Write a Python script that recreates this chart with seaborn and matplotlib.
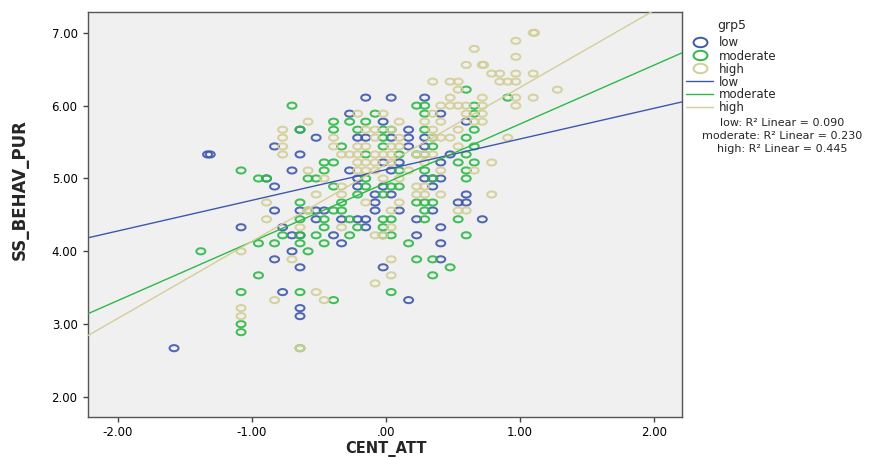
import matplotlib
matplotlib.use("Agg")
import matplotlib.pyplot as plt
import pandas as pd
import seaborn as sns
from matplotlib.path import Path
from matplotlib.lines import Line2D

# ---- data (CENT_ATT vs SS_BEHAV_PUR, by grp5) ----
low_x = [
    -0.15, 0.04, 0.29,
    -0.27, 0.41,
    -0.02, 0.60,
    -0.64, 0.17,
    -0.52, -0.21, -0.15, 0.04, 0.17, 0.29,
    -0.83, 0.17, 0.29,
    -1.33, -1.31, -0.64, 0.48,
    -0.02, 0.10, 0.41,
    -0.70, -0.27, 0.04,
    -0.89, -0.21, 0.29, 0.35, 0.41,
    -0.83, -0.21, -0.02, 0.35,
    -0.08, 0.04, 0.60,
    -0.08, 0.54, 0.60,
    -0.83, -0.64, -0.52, -0.46, -0.08, 0.10, 0.35,
    -0.52, -0.33, -0.21, -0.15, 0.23, 0.72,
    -1.08, -0.77, -0.15, 0.41,
    -0.70, -0.64, -0.39, 0.23,
    -0.33, 0.41,
    -0.70,
    -0.83, 0.41,
    -0.64, -0.02,
    -0.77,
    0.17,
    -0.64,
    -0.64,
    -1.58,
]
low_y = [
    6.11, 6.11, 6.11,
    5.89, 5.89,
    5.78, 5.78,
    5.67, 5.67,
    5.56, 5.56, 5.56, 5.56, 5.56, 5.56,
    5.44, 5.44, 5.44,
    5.33, 5.33, 5.33, 5.33,
    5.22, 5.22, 5.22,
    5.11, 5.11, 5.11,
    5.00, 5.00, 5.00, 5.00, 5.00,
    4.89, 4.89, 4.89, 4.89,
    4.78, 4.78, 4.78,
    4.67, 4.67, 4.67,
    4.56, 4.56, 4.56, 4.56, 4.56, 4.56, 4.56,
    4.44, 4.44, 4.44, 4.44, 4.44, 4.44,
    4.33, 4.33, 4.33, 4.33,
    4.22, 4.22, 4.22, 4.22,
    4.11, 4.11,
    4.00,
    3.89, 3.89,
    3.78, 3.78,
    3.44,
    3.33,
    3.22,
    3.11,
    2.67,
]

mod_x = [
    0.60,
    0.91,
    -0.70, 0.23, 0.29, 0.66,
    -0.08, 0.29, 0.66,
    -0.39, -0.27, -0.15,
    -0.64, -0.39, -0.21, -0.02, 0.04, 0.29, 0.66,
    -0.02, 0.35, 0.60,
    -0.33, -0.02, 0.35, 0.66,
    -0.15, 0.10, 0.23, 0.29, 0.60,
    -0.46, -0.39, 0.54, 0.66,
    -1.08, -0.46, 0.10, 0.29, 0.60,
    -0.95, -0.89, -0.58, -0.52, -0.15, 0.35, 0.60,
    -0.39, -0.15, 0.04, 0.10,
    -0.21, -0.02,
    -0.64, -0.33, 0.23, 0.29, 0.35,
    -0.58, -0.39, -0.33, 0.29,
    -0.64, -0.46, -0.27, -0.02, 0.04, 0.29, 0.54,
    -0.46, -0.21, -0.02,
    -0.77, -0.64, -0.52, -0.27, -0.02, 0.04, 0.60,
    -0.95, -0.83, -0.64, -0.46, 0.17,
    -1.38, -0.58,
    0.23, 0.35,
    0.48,
    -0.95, 0.35,
    -1.08, -0.64, 0.04,
    -0.39,
    -1.08,
    -1.08,
    -0.64,
]
mod_y = [
    6.22,
    6.11,
    6.00, 6.00, 6.00, 6.00,
    5.89, 5.89, 5.89,
    5.78, 5.78, 5.78,
    5.67, 5.67, 5.67, 5.67, 5.67, 5.67, 5.67,
    5.56, 5.56, 5.56,
    5.44, 5.44, 5.44, 5.44,
    5.33, 5.33, 5.33, 5.33, 5.33,
    5.22, 5.22, 5.22, 5.22,
    5.11, 5.11, 5.11, 5.11, 5.11,
    5.00, 5.00, 5.00, 5.00, 5.00, 5.00, 5.00,
    4.89, 4.89, 4.89, 4.89,
    4.78, 4.78,
    4.67, 4.67, 4.67, 4.67, 4.67,
    4.56, 4.56, 4.56, 4.56,
    4.44, 4.44, 4.44, 4.44, 4.44, 4.44, 4.44,
    4.33, 4.33, 4.33,
    4.22, 4.22, 4.22, 4.22, 4.22, 4.22, 4.22,
    4.11, 4.11, 4.11, 4.11, 4.11,
    4.00, 4.00,
    3.89, 3.89,
    3.78,
    3.67, 3.67,
    3.44, 3.44, 3.44,
    3.33,
    3.00,
    2.89,
    2.67,
]

high_x = [
    1.10, 1.11,
    0.97,
    0.66,
    0.97,
    0.60, 0.72, 0.73,
    0.79, 0.85, 0.97, 1.10,
    0.35, 0.48, 0.54, 0.85, 0.91, 0.97,
    0.54, 1.28,
    0.48, 0.72, 0.97, 1.10,
    0.41, 0.48, 0.54, 0.60, 0.72, 0.97,
    -0.21, -0.02, 0.35, 0.60, 0.72,
    -0.58, 0.10, 0.29, 0.41, 0.66, 0.72,
    -0.77, -0.15, -0.08, 0.04, 0.35, 0.54,
    -0.77, -0.39, -0.08, 0.10, 0.35, 0.41, 0.48, 0.91,
    -0.77, -0.39, -0.21, -0.15, 0.04, 0.10, 0.54,
    -0.77, -0.33, -0.27, -0.21, -0.08, -0.02, 0.04, 0.23, 0.29, 0.35,
    -0.21, -0.15, -0.08, 0.04, 0.29, 0.79,
    -0.58, -0.21, -0.15, -0.08, 0.17, 0.41, 0.66,
    -0.46, -0.02, 0.10,
    -0.33, 0.23, 0.29,
    -0.52, -0.33, 0.23, 0.29, 0.41, 0.79,
    -0.89, -0.15, 0.10,
    -0.58, 0.04, 0.54, 0.60,
    -0.89,
    -0.64, -0.33, 0.04,
    -0.08, -0.02,
    -1.08,
    -0.70, 0.04,
    0.04,
    -0.08,
    -0.52,
    -0.83, -0.46,
    -1.08,
    -1.08,
    -0.64,
]
high_y = [
    7.00, 7.00,
    6.89,
    6.78,
    6.67,
    6.56, 6.56, 6.56,
    6.44, 6.44, 6.44, 6.44,
    6.33, 6.33, 6.33, 6.33, 6.33, 6.33,
    6.22, 6.22,
    6.11, 6.11, 6.11, 6.11,
    6.00, 6.00, 6.00, 6.00, 6.00, 6.00,
    5.89, 5.89, 5.89, 5.89, 5.89,
    5.78, 5.78, 5.78, 5.78, 5.78, 5.78,
    5.67, 5.67, 5.67, 5.67, 5.67, 5.67,
    5.56, 5.56, 5.56, 5.56, 5.56, 5.56, 5.56, 5.56,
    5.44, 5.44, 5.44, 5.44, 5.44, 5.44, 5.44,
    5.33, 5.33, 5.33, 5.33, 5.33, 5.33, 5.33, 5.33, 5.33, 5.33,
    5.22, 5.22, 5.22, 5.22, 5.22, 5.22,
    5.11, 5.11, 5.11, 5.11, 5.11, 5.11, 5.11,
    5.00, 5.00, 5.00,
    4.89, 4.89, 4.89,
    4.78, 4.78, 4.78, 4.78, 4.78, 4.78,
    4.67, 4.67, 4.67,
    4.56, 4.56, 4.56, 4.56,
    4.44,
    4.33, 4.33, 4.33,
    4.22, 4.22,
    4.00,
    3.89, 3.89,
    3.67,
    3.56,
    3.44,
    3.33, 3.33,
    3.22,
    3.11,
    2.67,
]

groups = ["low", "moderate", "high"]
colors = ["#3E58AC", "#2EB848", "#D3CE97"]
# linear fit lines
fit_intercept = [5.121, 4.939, 5.192]
fit_slope = [0.421, 0.808, 1.057]
r2_linear = [0.090, 0.230, 0.445]

x_ticks = [-2, -1, 0, 1, 2]
x_ticklabels = ["-2.00", "-1.00", ".00", "1.00", "2.00"]
y_ticks = [2, 3, 4, 5, 6, 7]
y_ticklabels = ["2.00", "3.00", "4.00", "5.00", "6.00", "7.00"]

df = pd.concat([
    pd.DataFrame({"CENT_ATT": low_x, "SS_BEHAV_PUR": low_y, "grp5": "low"}),
    pd.DataFrame({"CENT_ATT": mod_x, "SS_BEHAV_PUR": mod_y, "grp5": "moderate"}),
    pd.DataFrame({"CENT_ATT": high_x, "SS_BEHAV_PUR": high_y, "grp5": "high"}),
], ignore_index=True)

sns.set_style("ticks")
plt.rcParams["font.family"] = ["DejaVu Sans"]

W, H = 883, 457
fig = plt.figure(figsize=(W / 100, H / 100), dpi=100)
ax = fig.add_axes([88 / W, 1 - 417 / H, (682 - 88) / W, (417 - 11.7) / H])
ax.set_facecolor("#F0F0F0")

# SPSS draws slightly wide open circles
circ = Path.unit_circle()
ellipse = Path(circ.vertices * [1.0, 0.68], circ.codes)

palette = dict(zip(groups, colors))
sns.scatterplot(data=df, x="CENT_ATT", y="SS_BEHAV_PUR", hue="grp5",
                hue_order=groups, palette=palette, marker=ellipse, s=42,
                linewidth=1.45, legend=False, ax=ax, zorder=2)
pts = ax.collections[0]
pts.set_edgecolors(pts.get_facecolors())
pts.set_facecolors("none")
pts.set_alpha(0.9)

for b, m, c in zip(fit_intercept, fit_slope, colors):
    ax.axline((0, b), slope=m, color=c, lw=1.0, zorder=3)

ax.set_xlim(-2.222, 2.21)
ax.set_ylim(1.725, 7.29)
ax.set_xticks(x_ticks)
ax.set_xticklabels(x_ticklabels)
ax.set_yticks(y_ticks)
ax.set_yticklabels(y_ticklabels)
ax.tick_params(axis="both", direction="out", length=3.5, width=1,
               color="#444444", labelsize=8.5, labelcolor="black", pad=3)
ax.tick_params(axis="y", pad=4)

for sp in ax.spines.values():
    sp.set_visible(True)
    sp.set_color("#555555")
    sp.set_linewidth(1.0)

ax.set_xlabel("CENT_ATT", fontsize=10.5, fontweight="bold")
ax.set_ylabel("SS_BEHAV_PUR", fontsize=12, fontweight="bold")
ax.xaxis.set_label_coords(0.502, -0.058)
ax.yaxis.set_label_coords(-0.099, 0.56)

# legend to the right of the plot
handles = [Line2D([], [], ls="none", marker=ellipse, markersize=10,
                  markerfacecolor="none", markeredgecolor=c, markeredgewidth=1.4)
           for c in colors]
handles += [Line2D([], [], color=c, lw=1.0) for c in colors]
labels = groups + groups
fig.text(717 / W, 1 - 25 / H, "grp5", fontsize=9, va="center", ha="left")
fig.legend(handles, labels, loc="upper left",
           bbox_to_anchor=(686 / W, 1 - 36.5 / H), bbox_transform=fig.transFigure,
           frameon=False, fontsize=8.5, borderpad=0, borderaxespad=0,
           labelspacing=0.0, handlelength=2.3, handletextpad=0.5)

for i, (g, r) in enumerate(zip(groups, r2_linear)):
    fig.text(782 / W, 1 - (123 + 13 * i) / H,
             f"{g}: R\u00b2 Linear = {r:.3f}", fontsize=8,
             ha="center", va="center")

fig.savefig("out.png", dpi=100)
